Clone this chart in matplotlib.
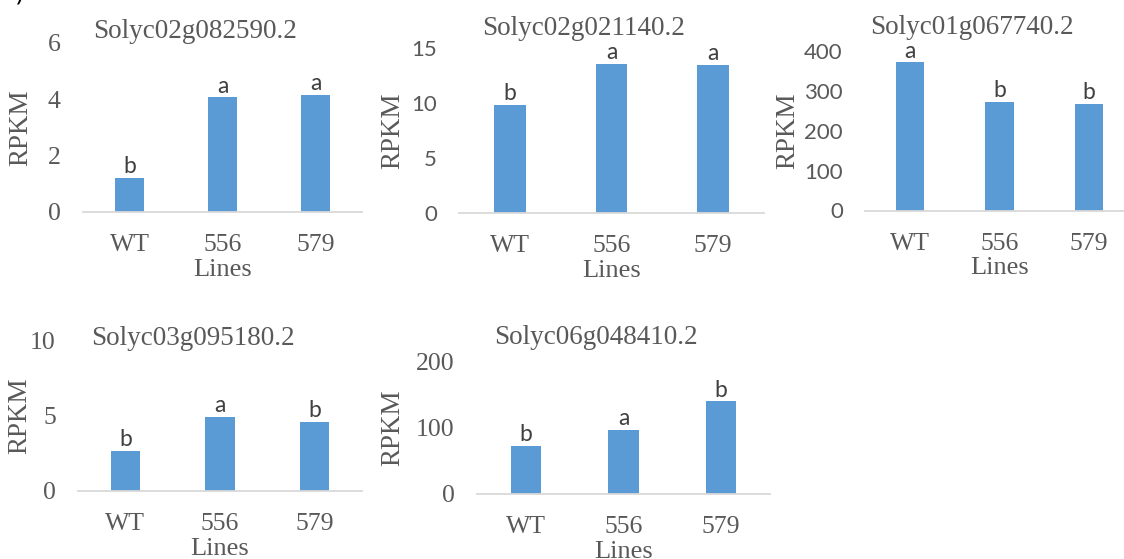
"""RPKM of five tomato genes in WT and two transgenic lines."""
import numpy as np
import matplotlib
matplotlib.use("Agg")
import matplotlib.pyplot as plt

W, H = 1124, 559

LINES = ["WT", "556", "579"]
GENES = ["Solyc02g082590.2", "Solyc02g021140.2", "Solyc01g067740.2",
         "Solyc03g095180.2", "Solyc06g048410.2"]

RPKM_082590 = [1.2, 4.06, 4.15]
RPKM_021140 = [9.8, 13.6, 13.5]
RPKM_067740 = [371, 271, 268]
RPKM_095180 = [2.64, 4.88, 4.55]
RPKM_048410 = [73, 96.5, 140]

LETTERS_082590 = ["b", "a", "a"]
LETTERS_021140 = ["b", "a", "a"]
LETTERS_067740 = ["a", "b", "b"]
LETTERS_095180 = ["b", "a", "b"]
LETTERS_048410 = ["b", "a", "b"]

YMAX = [6, 15, 400, 10, 200]
YSTEP = [2, 5, 100, 5, 100]

VALUES = [RPKM_082590, RPKM_021140, RPKM_067740, RPKM_095180, RPKM_048410]
LETTERS = [LETTERS_082590, LETTERS_021140, LETTERS_067740, LETTERS_095180, LETTERS_048410]

BAR = "#5b9bd5"
TXT = "#595959"
AXLINE = "#d9d9d9"
SERIF = "Liberation Serif"
SANS = "Lato"

# plot area in pixels: x0, x1, y_top, y_bottom
BOXES = [
    (83, 362, 42.8, 211.7),
    (459, 764, 48.3, 212.7),
    (865, 1134, 50.8, 210.5),
    (78, 362, 340.3, 490.7),
    (477, 770, 361.7, 494),
]
TICK_FONT = [SERIF, SANS, SANS, SERIF, SERIF]
TITLE_BASE = [37.5, 35, 33.5, 345, 344.5]
YLABEL_GAP = [50, 54, 65, 46, 72]

fig = plt.figure(figsize=(W / 100, H / 100), dpi=100)

for i, gene in enumerate(GENES):
    x0, x1, yt, yb = BOXES[i]
    ax = fig.add_axes([x0 / W, 1 - yb / H, (x1 - x0) / W, (yb - yt) / H])
    xs = np.arange(len(LINES))
    ax.bar(xs, VALUES[i], width=0.313, color=BAR)
    ax.set_xlim(-0.5, len(LINES) - 0.5)
    ax.set_ylim(0, YMAX[i])
    ax.set_yticks(np.arange(0, YMAX[i] + 1, YSTEP[i]))
    ax.set_xticks(xs)
    ax.set_xticklabels(LINES, fontfamily=SERIF, fontsize=18.5, color=TXT)
    tsize = 18.5 if TICK_FONT[i] == SERIF else 16
    for lab in ax.get_yticklabels():
        lab.set_fontfamily(TICK_FONT[i]); lab.set_fontsize(tsize); lab.set_color(TXT)
    for s in ["top", "right", "left"]:
        ax.spines[s].set_visible(False)
    ax.spines["bottom"].set_color(AXLINE); ax.spines["bottom"].set_linewidth(1.3)
    ax.tick_params(length=0, pad=16)
    ax.set_facecolor("none")

    ax.set_xlabel("Lines", fontfamily=SERIF, fontsize=19, color=TXT, labelpad=2)
    ax.set_ylabel("RPKM", fontfamily=SERIF, fontsize=19.5, color=TXT)
    ax.yaxis.set_label_coords(-YLABEL_GAP[i] / (x1 - x0), 0.5)

    for x, v, l in zip(xs, VALUES[i], LETTERS[i]):
        ax.annotate(l, (x, v), xytext=(0, 3.5), textcoords="offset points",
                    ha="center", va="baseline", fontfamily=SANS, fontsize=16.5,
                    color="#404040")

    fig.text(((x0 - 55) + x1) / 2 / W, 1 - TITLE_BASE[i] / H, gene,
             ha="center", va="baseline", fontfamily=SERIF, fontsize=19.5, color=TXT)

# cut-off panel tag at the very top left
fig.text(15 / W, 1.0, ")", ha="left", va="baseline", fontsize=18, color="black")

fig.savefig("out.png", dpi=100)
